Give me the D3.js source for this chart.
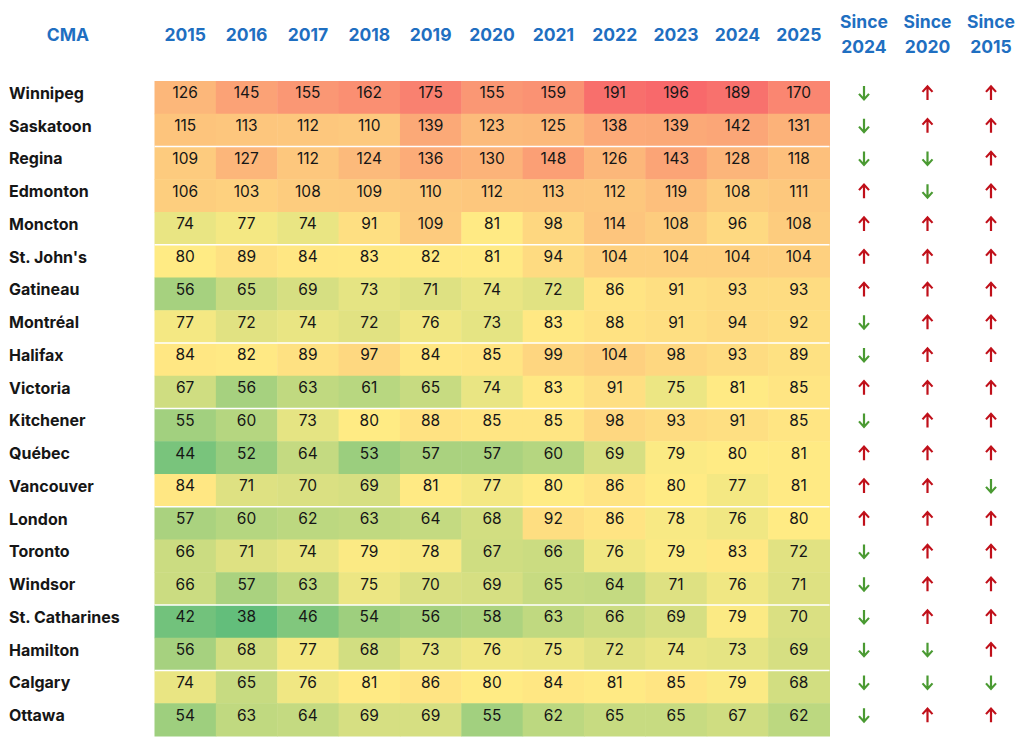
<!DOCTYPE html>
<html><head><meta charset="utf-8">
<script src="https://cdn.jsdelivr.net/npm/d3@7"></script>
<style>body{margin:0;background:#fff}svg{display:block}</style>
</head><body><svg id="c" width="1024" height="753"></svg>
<script>
const cities = ["Winnipeg","Saskatoon","Regina","Edmonton","Moncton","St. John's","Gatineau","Montréal","Halifax","Victoria","Kitchener","Québec","Vancouver","London","Toronto","Windsor","St. Catharines","Hamilton","Calgary","Ottawa"];
const years = ["2015","2016","2017","2018","2019","2020","2021","2022","2023","2024","2025"];
const values = [
 [126,145,155,162,175,155,159,191,196,189,170],
 [115,113,112,110,139,123,125,138,139,142,131],
 [109,127,112,124,136,130,148,126,143,128,118],
 [106,103,108,109,110,112,113,112,119,108,111],
 [74,77,74,91,109,81,98,114,108,96,108],
 [80,89,84,83,82,81,94,104,104,104,104],
 [56,65,69,73,71,74,72,86,91,93,93],
 [77,72,74,72,76,73,83,88,91,94,92],
 [84,82,89,97,84,85,99,104,98,93,89],
 [67,56,63,61,65,74,83,91,75,81,85],
 [55,60,73,80,88,85,85,98,93,91,85],
 [44,52,64,53,57,57,60,69,79,80,81],
 [84,71,70,69,81,77,80,86,80,77,81],
 [57,60,62,63,64,68,92,86,78,76,80],
 [66,71,74,79,78,67,66,76,79,83,72],
 [66,57,63,75,70,69,65,64,71,76,71],
 [42,38,46,54,56,58,63,66,69,79,70],
 [56,68,77,68,73,76,75,72,74,73,69],
 [74,65,76,81,86,80,84,81,85,79,68],
 [54,63,64,69,69,55,62,65,65,67,62]
];
const trendHeaders = [["Since","2024"],["Since","2020"],["Since","2015"]];
// 1 = up arrow, -1 = down arrow (Since 2024, Since 2020, Since 2015)
const trends = [
 [-1,1,1],[-1,1,1],[-1,-1,1],[1,-1,1],[1,1,1],[1,1,1],[1,1,1],[-1,1,1],[-1,1,1],[1,1,1],
 [-1,1,1],[1,1,1],[1,1,-1],[1,1,1],[-1,1,1],[-1,1,1],[-1,1,1],[-1,-1,1],[-1,-1,-1],[-1,1,1]
];
const separatorsAfter = [1,4,7,9,12,15,17];

const svg = d3.select("#c");
const font = "Inter, 'Open Sans', 'DejaVu Sans', sans-serif";
const x = d3.scaleBand().domain(years).range([154.5, 829.5]);
const y = d3.scaleBand().domain(cities).range([81, 736]);
const xt = d3.scalePoint().domain(trendHeaders.map(d=>d[1])).range([864, 991]);

const all = values.flat();
const color = d3.scaleLinear()
  .domain([d3.min(all), d3.median(all), d3.max(all)])
  .range(["#63BE7B","#FFEB84","#F8696B"]).interpolate(d3.interpolateRgb);

const cells = [];
values.forEach((row,i)=>row.forEach((v,j)=>cells.push({c:cities[i],yr:years[j],v})));

svg.append("g").selectAll("rect").data(cells).join("rect")
  .attr("x",d=>x(d.yr)).attr("y",d=>y(d.c))
  .attr("width",x.bandwidth()+0.5).attr("height",y.bandwidth()+0.5)
  .attr("fill",d=>color(d.v));

svg.append("g").selectAll("line").data(separatorsAfter).join("line")
  .attr("x1",x.range()[0]).attr("x2",x.range()[1])
  .attr("y1",i=>y(cities[i])+y.bandwidth()).attr("y2",i=>y(cities[i])+y.bandwidth())
  .attr("stroke","#fff").attr("stroke-width",1.6);

const off = y.bandwidth()/2 - 4.5;
svg.append("g").selectAll("text").data(cells).join("text")
  .attr("x",d=>x(d.yr)+x.bandwidth()/2).attr("y",d=>y(d.c)+off)
  .attr("text-anchor","middle").attr("dominant-baseline","central")
  .attr("font-family",font).attr("font-size",15.5).attr("fill","#161616")
  .text(d=>d.v);

svg.append("g").selectAll("text").data(cities).join("text")
  .attr("x",9).attr("y",d=>y(d)+off)
  .attr("dominant-baseline","central")
  .attr("font-family",font).attr("font-weight",700).attr("font-size",16).attr("fill","#161616")
  .text(d=>d);

const blue = "#1f6fc1";
svg.append("text").attr("x",68).attr("y",34).attr("text-anchor","middle")
  .attr("dominant-baseline","central").attr("font-family",font).attr("font-weight",700)
  .attr("font-size",17.5).attr("fill",blue).text("CMA");
svg.append("g").selectAll("text").data(years).join("text")
  .attr("x",d=>x(d)+x.bandwidth()/2).attr("y",34).attr("text-anchor","middle")
  .attr("dominant-baseline","central").attr("font-family",font).attr("font-weight",700)
  .attr("font-size",17.5).attr("fill",blue).text(d=>d);
const th = svg.append("g").selectAll("g").data(trendHeaders).join("g");
th.append("text").attr("x",d=>xt(d[1])).attr("y",21).attr("text-anchor","middle")
  .attr("dominant-baseline","central").attr("font-family",font).attr("font-weight",700)
  .attr("font-size",17.5).attr("fill",blue).text(d=>d[0]);
th.append("text").attr("x",d=>xt(d[1])).attr("y",46).attr("text-anchor","middle")
  .attr("dominant-baseline","central").attr("font-family",font).attr("font-weight",700)
  .attr("font-size",17.5).attr("fill",blue).text(d=>d[1]);

const arrows = [];
trends.forEach((r,i)=>r.forEach((t,j)=>arrows.push({c:cities[i],h:trendHeaders[j][1],t})));
const ag = svg.append("g").selectAll("g").data(arrows).join("g")
  .attr("transform",d=>`translate(${xt(d.h)},${y(d.c)+off})`);
ag.append("path")
  .attr("d",d=>d.t>0 ? "M0,7 L0,-6 M-5,-1 L0,-6.5 L5,-1" : "M0,-7 L0,6 M-5,1 L0,6.5 L5,1")
  .attr("fill","none").attr("stroke",d=>d.t>0?"#c0101a":"#4a9a32")
  .attr("stroke-width",2.2).attr("stroke-linecap","butt").attr("stroke-linejoin","miter");
</script></body></html>
